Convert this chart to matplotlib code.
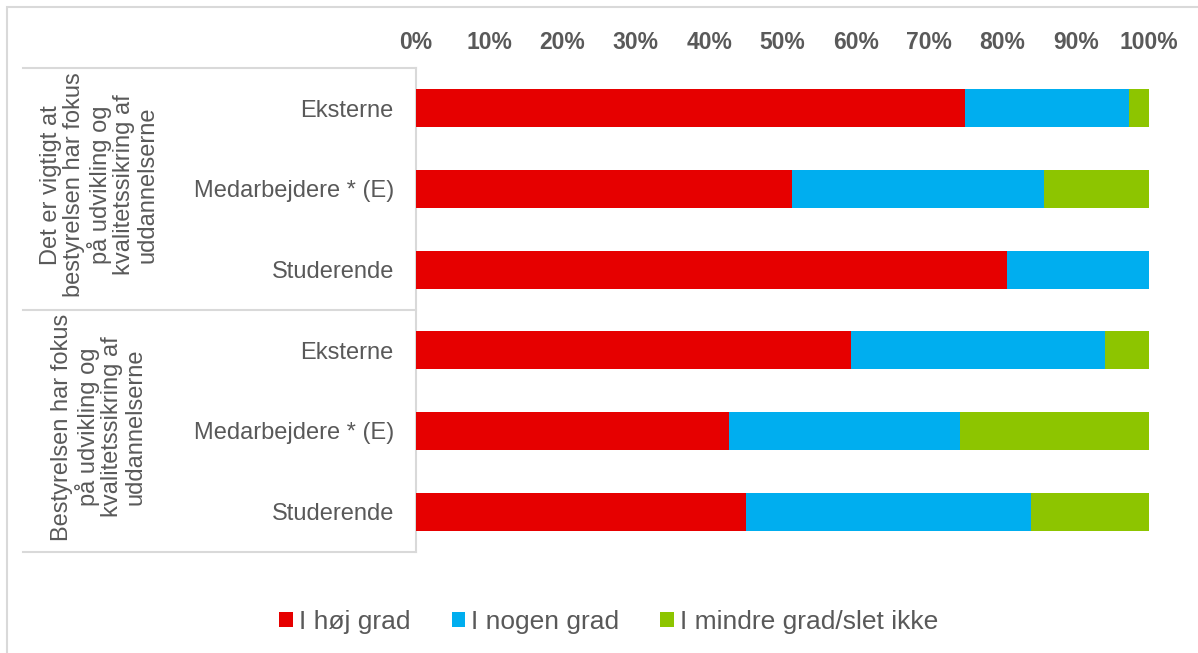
import matplotlib
matplotlib.use('Agg')
import matplotlib.pyplot as plt
import matplotlib.transforms as mtransforms
from matplotlib.lines import Line2D
from matplotlib.patches import Rectangle
import numpy as np

plt.rcParams['font.family'] = ['Liberation Sans', 'DejaVu Sans']

# ── Data ──────────────────────────────────────────────────────
categories = ['Eksterne', 'Medarbejdere * (E)', 'Studerende',
              'Eksterne', 'Medarbejdere * (E)', 'Studerende']
groups = ['Det er vigtigt at\nbestyrelsen har fokus\npå udvikling og\nkvalitetssikring af\nuddannelserne',
          'Bestyrelsen har fokus\npå udvikling og\nkvalitetssikring af\nuddannelserne']
series = ['I høj grad', 'I nogen grad', 'I mindre grad/slet ikke']
hoj = [74.9, 51.3, 80.6, 59.3, 42.7, 45.0]
nogen = [22.4, 34.4, 19.4, 34.7, 31.5, 38.9]
mindre = [2.7, 14.3, 0.0, 6.0, 25.8, 16.1]

COLORS = ['#E60000', '#00AEEF', '#8DC500']
TEXT = '#595959'
GRID = '#D9D9D9'

fig = plt.figure(figsize=(11.98, 6.53), dpi=100)
fig.patch.set_facecolor('white')
ax = fig.add_axes([416 / 1198, 1 - 552 / 653, 733 / 1198, 484 / 653])

y = np.arange(len(categories))
left = np.zeros(len(categories))
for vals, col, lab in zip([hoj, nogen, mindre], COLORS, series):
    ax.barh(y, vals, left=left, height=0.47, color=col, label=lab,
            edgecolor='none', zorder=3)
    left = left + np.array(vals)

ax.set_xlim(0, 100)
ax.set_ylim(len(categories) - 0.5, -0.5)

ax.xaxis.tick_top()
ax.set_xticks(np.arange(0, 101, 10))
ax.set_xticklabels([f'{v}%' for v in range(0, 101, 10)],
                   fontsize=16.5, fontweight='bold', color=TEXT)
ax.tick_params(axis='x', length=0, pad=10)

ax.set_yticks(y)
ax.set_yticklabels(categories, fontsize=17, color=TEXT)
ax.tick_params(axis='y', length=0, pad=16)

for s in ['top', 'right', 'bottom']:
    ax.spines[s].set_visible(False)
ax.spines['left'].set_color(GRID)
ax.spines['left'].set_linewidth(1.5)

# ── Group table lines and labels ──────────────────────────────
trans = mtransforms.blended_transform_factory(fig.transFigure, ax.transData)
for yy in [-0.5, 2.5, 5.5]:
    fig.add_artist(Line2D([23 / 1198, 416 / 1198], [yy, yy], transform=trans,
                          color=GRID, lw=1.5))

for i, g in enumerate(groups):
    yc = 3 * i + 1 - 0.05
    fig.text(99 / 1198, yc, g, transform=trans,
             rotation=90, ha='center', va='center', fontsize=17,
             color=TEXT, linespacing=1.08, multialignment='center')

# outer chart border (cropped on right/bottom)
fig.add_artist(Rectangle((7 / 1198, -0.1), 1.2, 1 - 7 / 653 + 0.1,
                         transform=fig.transFigure, fill=False,
                         edgecolor=GRID, lw=1.5))

# ── Legend ────────────────────────────────────────────────────
fig.legend(loc='center', bbox_to_anchor=(609 / 1198, 1 - 622 / 653), ncol=3,
           frameon=False, fontsize=19, labelcolor=TEXT,
           handlelength=0.5, handleheight=0.5, handletextpad=0.25,
           columnspacing=1.55)

fig.savefig('out.png', dpi=100, facecolor='white')
